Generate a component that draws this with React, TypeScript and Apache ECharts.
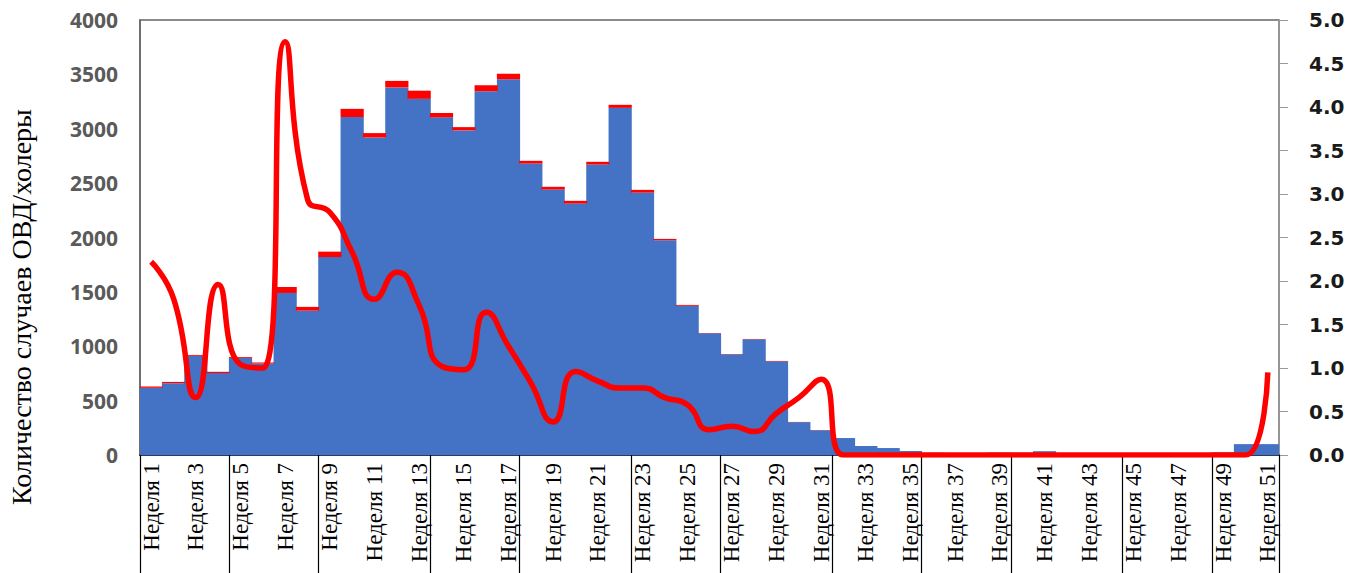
import React, { useEffect, useRef } from "react";
import * as echarts from "echarts";

const weeks: string[] = Array.from({ length: 51 }, (_, i) => `Неделя ${i + 1}`);

const casesBlue: number[] = [
  618, 660, 912, 753, 892, 842, 1490, 1327, 1820, 3108,
  2920, 3380, 3275, 3105, 2985, 3345, 3455, 2680, 2441, 2312,
  2671, 3192, 2413, 1975, 1372, 1119, 926, 1064, 861, 302,
  228, 156, 83, 64, 37, 20, 12, 15, 22, 20,
  35, 12, 10, 15, 10, 8, 8, 10, 25, 100,
  100,
];

const deathsRed: number[] = [
  12, 12, 8, 12, 8, 8, 55, 35, 50, 75,
  40, 60, 75, 40, 30, 55, 50, 25, 25, 25,
  25, 28, 25, 12, 8, 3, 3, 3, 4, 2,
  2, 0, 0, 0, 0, 0, 0, 0, 0, 0,
  0, 0, 0, 0, 0, 0, 0, 0, 0, 0,
  0,
];

const cfrLine: number[] = [
  2.22, 1.8, 0.66, 1.96, 1.04, 1.0, 4.75, 2.94, 2.79, 2.33,
  1.79, 2.1, 1.72, 1.02, 0.98, 1.64, 1.25, 0.83, 0.38, 0.96,
  0.85, 0.77, 0.77, 0.66, 0.58, 0.29, 0.33, 0.27, 0.48, 0.66,
  0.87, 0, 0, 0, 0, 0, 0, 0, 0, 0,
  0, 0, 0, 0, 0, 0, 0, 0, 0, 0,
  0.95,
];

// first week index of each month (separator lines under the axis)
const monthStarts: number[] = [0, 4, 8, 13, 17, 22, 26, 31, 35, 39, 44, 48];

const yTitle = "Количество случаев ОВД/холеры";

export default function App() {
  const ref = useRef<HTMLDivElement>(null);
  useEffect(() => {
    if (!ref.current) return;
    const chart = echarts.init(ref.current, null, { renderer: "svg" });
    chart.setOption({
      animation: false,
      backgroundColor: "#ffffff",
      grid: {
        left: 140,
        right: 85,
        top: 20,
        bottom: 118,
        show: true,
        borderColor: "#666666",
        borderWidth: 1.5,
        backgroundColor: "transparent",
      },
      xAxis: {
        type: "category",
        data: weeks,
        boundaryGap: true,
        axisLine: { show: true, lineStyle: { color: "#2f3a55", width: 2 } },
        axisTick: {
          show: true,
          interval: (i: number) => monthStarts.indexOf(i) >= 0,
          length: 120,
          lineStyle: { color: "#000000", width: 1.2 },
        },
        axisLabel: {
          interval: 1,
          rotate: 90,
          margin: 8,
          fontFamily: "Liberation Serif",
          fontSize: 23,
          color: "#000000",
        },
        splitLine: { show: false },
      },
      yAxis: [
        {
          type: "value",
          min: 0,
          max: 4000,
          interval: 500,
          axisLine: { show: true, lineStyle: { color: "#666666", width: 1.5 } },
          axisTick: { show: false },
          splitLine: { show: false },
          axisLabel: {
            margin: 22,
            fontFamily: "Open Sans",
            fontWeight: "bold",
            fontSize: 21,
            color: "#5a5a5a",
            formatter: (v: number) => String(v),
          },
        },
        {
          type: "value",
          min: 0,
          max: 5,
          interval: 0.5,
          position: "right",
          axisLine: { show: true, lineStyle: { color: "#9a9a9a", width: 1.5 } },
          axisTick: { show: true, inside: false, length: 9, lineStyle: { color: "#9a9a9a" } },
          splitLine: { show: false },
          axisLabel: {
            margin: 30,
            fontFamily: "DejaVu Sans",
            fontWeight: "bold",
            fontSize: 20,
            color: "#1a1a1a",
            formatter: (v: number) => v.toFixed(1),
          },
        },
      ],
      series: [
        {
          name: "cases",
          type: "bar",
          stack: "total",
          data: casesBlue,
          barWidth: 23.2,
          barCategoryGap: "0%",
          itemStyle: { color: "#4472C4" },
        },
        {
          name: "deaths",
          type: "bar",
          stack: "total",
          data: deathsRed,
          barWidth: 23.2,
          barCategoryGap: "0%",
          itemStyle: { color: "#ff0000" },
        },
        {
          name: "cfr",
          type: "line",
          yAxisIndex: 1,
          data: cfrLine,
          smooth: 0.55,
          showSymbol: false,
          symbol: "none",
          lineStyle: { color: "#ff0000", width: 5.5 },
          z: 5,
        },
      ],
      graphic: [
        {
          type: "text",
          x: 21,
          y: 307,
          rotation: Math.PI / 2,
          style: {
            text: yTitle,
            fontFamily: "Liberation Serif",
            fontSize: 28,
            fill: "#000000",
            align: "center",
            verticalAlign: "middle",
          },
        },
      ],
    });
    return () => chart.dispose();
  }, []);
  return (
    <div
      ref={ref}
      style={{ position: "absolute", left: 0, top: 0, width: 1364, height: 573 }}
    />
  );
}
